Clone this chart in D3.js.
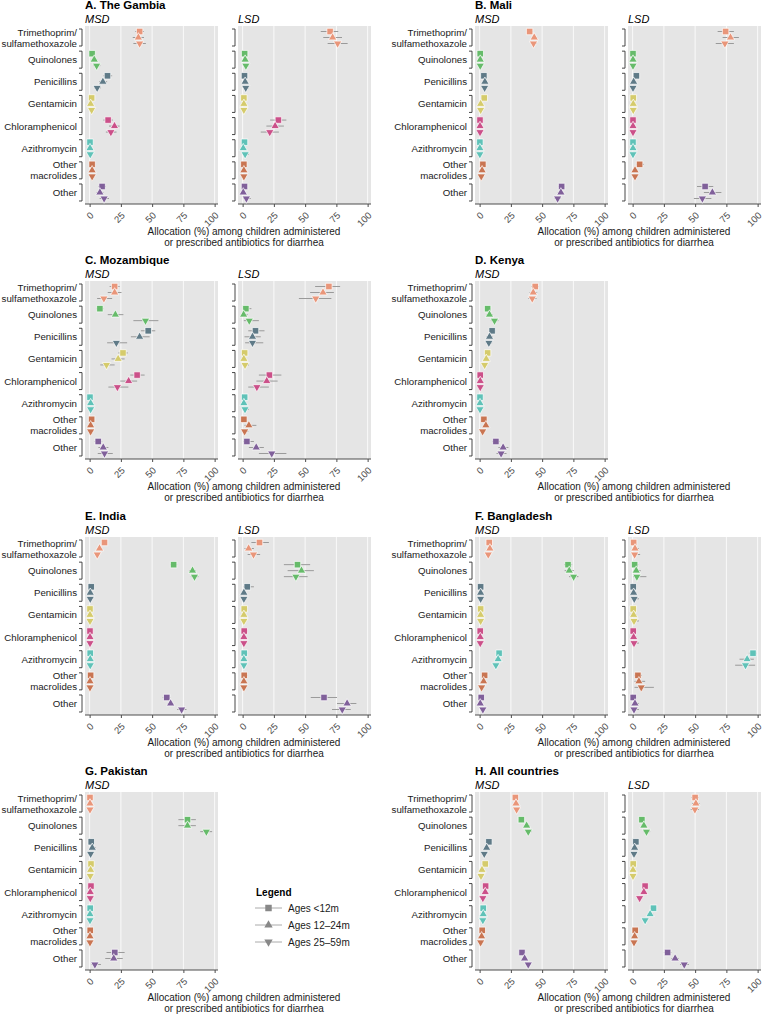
<!DOCTYPE html>
<html>
<head>
<meta charset="utf-8">
<script src="https://cdn.jsdelivr.net/npm/d3@7"></script>
<style>
  body { margin: 0; background: #fff; }
  svg { font-family: "Liberation Sans", Arial, Helvetica, sans-serif; }
</style>
</head>
<body>
<div id="chart"></div>
<script>
// antibiotic classes (y axis), top to bottom
var categories = ["Trimethoprim/\nsulfamethoxazole", "Quinolones", "Penicillins", "Gentamicin",
                  "Chloramphenicol", "Azithromycin", "Other\nmacrolides", "Other"];
var catColors = ["#e9967a", "#66bb6a", "#5f7a87", "#d5cb6b", "#cb5089", "#5fc2b8", "#c97552", "#80609a"];
var ageGroups = ["Ages <12m", "Ages 12\u201324m", "Ages 25\u201359m"];
var xTicks = [0, 25, 50, 75, 100];

// each row: [estimate, lower, upper] for <12m, 12-24m, 25-59m
var gambiaMSD = [
  [[40, 36.5, 43.5], [39, 34.5, 43.5], [40, 35, 45]],
  [[2, 0.5, 4], [3.7, 1.5, 6], [5.6, 3, 8.5]],
  [[14.3, 11, 18], [10.6, 7.5, 14], [6, 3.5, 9]],
  [[1.6, 0.3, 3], [0.8, 0, 2], [1.6, 0.3, 3]],
  [[14.8, 11, 18.5], [19.9, 15.5, 24], [17, 13, 21.5]],
  [[0.3, 0, 1.2], [0.3, 0, 1.2], [0.5, 0, 1.5]],
  [[2, 0.5, 3.5], [2, 0.5, 3.5], [2, 0.5, 3.5]],
  [[10, 7, 13], [8.2, 5.5, 11], [11.6, 8, 15.5]]
];
var gambiaLSD = [
  [[70, 62.5, 76.5], [72, 64.5, 79.5], [76, 68, 84]],
  [[1.6, 0.3, 3.5], [2, 0.3, 4], [2.6, 0.5, 5]],
  [[1.5, 0.3, 3.5], [2, 0.3, 4], [2.5, 0.5, 5]],
  [[1, 0, 2.5], [1, 0, 2.5], [1, 0, 2.5]],
  [[28.6, 22, 35], [26, 19, 33], [21.7, 14.5, 29]],
  [[1.5, 0.3, 3], [0.5, 0, 2], [2, 0.3, 5]],
  [[1, 0, 2.5], [1, 0, 2.5], [1, 0, 2.5]],
  [[1.5, 0.3, 3.5], [0.5, 0, 2], [3, 0.5, 6.5]]
];
var maliMSD = [
  [[40, 38, 42.5], [43.7, 41.5, 46], [43.1, 41, 45.5]],
  [[0.5, 0, 1.2], [0.5, 0, 1.2], [0.5, 0, 1.2]],
  [[3.4, 2, 5], [4.2, 2.5, 6], [4, 2.5, 5.5]],
  [[3.7, 2.3, 5.2], [0.8, 0.2, 1.8], [0.8, 0.2, 1.8]],
  [[0.3, 0, 1], [0.3, 0, 1], [0.3, 0, 1]],
  [[0.2, 0, 1], [0.2, 0, 1], [0.2, 0, 1]],
  [[2.6, 1.5, 4], [2, 1, 3.2], [1.3, 0.5, 2.5]],
  [[65.6, 63, 68], [65, 62.5, 67.5], [62.4, 60, 65]]
];
var maliLSD = [
  [[74.4, 68, 81], [78.3, 72, 85], [73.8, 66.5, 81]],
  [[0.3, 0, 1.2], [0.3, 0, 1.2], [0.3, 0, 1.2]],
  [[3, 1, 5.5], [0.8, 0, 2.2], [0.3, 0, 1.2]],
  [[0.5, 0, 1.5], [0.5, 0, 1.5], [0.5, 0, 1.5]],
  [[0.3, 0, 1.2], [0.3, 0, 1.2], [0.3, 0, 1.2]],
  [[0.3, 0, 1.2], [0.3, 0, 1.2], [0.3, 0, 1.2]],
  [[5.6, 3, 9], [1.9, 0.5, 4], [1.9, 0.5, 4]],
  [[58, 51.5, 64.5], [63.8, 57, 71], [55.8, 49, 63]]
];
var mozambiqueMSD = [
  [[20, 16, 24], [20, 14.5, 25.5], [11.4, 6, 18]],
  [[8.2, 5.5, 11], [20.6, 14.5, 27], [44.7, 35, 55]],
  [[46.9, 41, 52.5], [40, 33, 48], [21.4, 14, 30]],
  [[26.7, 23, 30.5], [22.8, 17.5, 28], [13.5, 8.5, 20]],
  [[38, 32.5, 44], [31.2, 24.5, 38], [22.2, 15, 31]],
  [[0.3, 0, 1.5], [0.8, 0, 2], [0.8, 0, 2]],
  [[1.6, 0.3, 3.5], [0.8, 0, 2], [0.8, 0, 2]],
  [[6.9, 4, 10], [10.9, 7, 15], [11.9, 6.5, 18.5]]
];
var mozambiqueLSD = [
  [[69, 58, 78], [64.3, 54, 73], [58.5, 45, 71]],
  [[2.6, 0.5, 7], [0.8, 0, 4], [5.3, 1, 13]],
  [[10.3, 4.5, 17.5], [7.9, 1.5, 14.5], [7.9, 2, 16.5]],
  [[1.6, 0.3, 4], [1, 0, 3], [1.9, 0.3, 5]],
  [[21.4, 13, 31], [19.3, 11, 28], [11.4, 4.5, 21]],
  [[1.6, 0.3, 4], [1, 0, 3], [1.9, 0.3, 5]],
  [[1, 0, 3], [5, 1.5, 11], [1.6, 0.3, 4.5]],
  [[3.4, 0.5, 9], [10.9, 5, 17], [23.3, 13, 35]]
];
var kenyaMSD = [
  [[44.5, 41.5, 47.5], [42.9, 40, 46], [42.1, 39, 45.5]],
  [[6.4, 4.5, 8.5], [7.9, 5.5, 10.5], [11.9, 9, 15]],
  [[10, 8, 12.5], [7.9, 5.5, 10.5], [7.4, 5, 10]],
  [[6.4, 4.5, 8.5], [5.3, 3.5, 7.5], [4, 2.5, 6]],
  [[0.5, 0, 1.5], [0.5, 0, 1.5], [0.5, 0, 1.5]],
  [[0.3, 0, 1], [0.3, 0, 1], [0.3, 0, 1]],
  [[3.4, 2, 5], [5, 3, 7], [2.4, 1, 4]],
  [[13, 10, 16], [18.8, 15, 23], [17.2, 13.5, 21.5]]
];
var indiaMSD = [
  [[11.9, 10, 14], [7.9, 6, 10], [6.1, 4.5, 8]],
  [[67.2, 64.5, 70], [82.3, 79.5, 85], [83.9, 81, 87]],
  [[1.3, 0.5, 2.5], [0.5, 0, 1.2], [0.5, 0, 1.2]],
  [[0.3, 0, 1], [0.3, 0, 1], [0.3, 0, 1]],
  [[0.3, 0, 1], [0.3, 0, 1], [0.3, 0, 1]],
  [[0.5, 0, 1.2], [0.5, 0, 1.2], [0.5, 0, 1.2]],
  [[0.8, 0, 1.8], [0.3, 0, 1], [0.3, 0, 1]],
  [[61.7, 58.5, 64.5], [64.8, 62.5, 67], [73.6, 70, 77.5]]
];
var indiaLSD = [
  [[13.5, 7, 21], [4.8, 1.5, 9], [8.7, 4, 14]],
  [[43.9, 33, 54], [47.1, 36, 57], [42.6, 33, 52]],
  [[3.7, 0.8, 9], [1, 0, 3], [1, 0, 3]],
  [[1.3, 0, 4], [1, 0, 3], [1, 0, 3]],
  [[1.3, 0, 4], [1, 0, 3], [1, 0, 3]],
  [[1.3, 0, 4], [1, 0, 3], [1, 0, 3]],
  [[1.3, 0, 4], [1, 0, 3], [1, 0, 3]],
  [[65.1, 54.5, 75.5], [83.6, 75.5, 91], [79.7, 71.5, 86.5]]
];
var bangladeshMSD = [
  [[7.7, 6, 9.5], [8.2, 6.5, 10], [6.9, 5.5, 8.5]],
  [[70.7, 67.5, 74], [71.7, 68, 75.5], [75.2, 71.5, 79]],
  [[0.8, 0.2, 1.8], [0.8, 0.2, 1.8], [0.8, 0.2, 1.8]],
  [[0.8, 0.2, 1.8], [0.8, 0.2, 1.8], [0.8, 0.2, 1.8]],
  [[0.5, 0, 1.5], [0.5, 0, 1.5], [0.5, 0, 1.5]],
  [[15.6, 13.5, 18], [14.8, 12.5, 17], [13, 11, 15]],
  [[4, 2.5, 5.5], [3.2, 2, 4.5], [1.6, 0.5, 3]],
  [[1.3, 0.3, 2.5], [0.5, 0, 1.5], [2.6, 1.2, 4]]
];
var bangladeshLSD = [
  [[0.8, 0, 3], [1.9, 0.3, 5], [1.6, 0.3, 6]],
  [[1.6, 0.3, 4.5], [2.9, 0.5, 6.5], [3.4, 0.5, 11]],
  [[0.5, 0, 3], [0.8, 0, 3], [1.3, 0, 5]],
  [[0.5, 0, 3], [0.8, 0, 3], [1.1, 0, 5]],
  [[0.5, 0, 3], [0.8, 0, 3], [1.1, 0, 5]],
  [[96.3, 93, 99], [91.6, 85.5, 97], [90.3, 82, 98]],
  [[4.2, 1.5, 7.5], [5, 1.5, 10], [6.9, 1.5, 17]],
  [[0.5, 0, 3], [1.9, 0.3, 5], [1.1, 0, 5]]
];
var pakistanMSD = [
  [[0.3, 0, 1], [0.3, 0, 1], [0.3, 0, 1]],
  [[78.3, 71, 85], [78.3, 71, 85], [93.4, 88.5, 98]],
  [[1.3, 0.3, 3], [2.1, 0.5, 5], [0.8, 0, 2.5]],
  [[1.1, 0, 2.5], [0.8, 0, 2], [0.5, 0, 1.5]],
  [[1.1, 0, 2.5], [0.5, 0, 1.5], [0.5, 0, 1.5]],
  [[0.5, 0, 1.5], [0.3, 0, 1], [0.3, 0, 1]],
  [[0.5, 0, 1.5], [0.3, 0, 1], [0.3, 0, 1]],
  [[20.1, 13.5, 28], [19.3, 12.5, 26.5], [4.2, 1.5, 9]]
];
var allMSD = [
  [[28.6, 27, 30.5], [29.1, 27.5, 31], [29.6, 28, 31.5]],
  [[33.4, 31.5, 35.5], [37.6, 35.5, 40], [38.9, 36.5, 41.5]],
  [[7.4, 6, 9], [5.6, 4.5, 7], [3.7, 2.5, 5]],
  [[4.5, 3.5, 5.5], [1.9, 1, 3], [1.1, 0.5, 2]],
  [[4.8, 3.5, 6], [4.5, 3.5, 6], [2.6, 1.5, 4]],
  [[2.9, 2, 4], [2.9, 2, 4], [2.6, 1.5, 3.5]],
  [[2.1, 1.2, 3], [1.6, 0.8, 2.5], [0.8, 0.3, 1.5]],
  [[33.9, 32, 36], [36, 34, 38], [38.9, 36.5, 41]]
];
var allLSD = [
  [[50, 47, 53], [50.6, 47.5, 53.5], [49.8, 46.5, 53]],
  [[7.4, 5.5, 9.5], [9, 7, 11.5], [11.1, 8.5, 14]],
  [[2.6, 1.3, 4], [1.6, 0.7, 3], [1.1, 0.3, 2.5]],
  [[0.5, 0, 1.2], [0.3, 0, 1], [0.3, 0, 1]],
  [[10, 8, 12], [9, 7, 11], [5.6, 4, 7.5]],
  [[16.7, 14.5, 19], [14, 12, 16.5], [10, 8, 12]],
  [[2.1, 1, 3.5], [1.6, 0.7, 3], [1.1, 0.3, 2.5]],
  [[28, 25, 31], [34, 31, 37], [41.3, 38, 45]]
];

var panels = [
  {title: "A. The Gambia",   msd: gambiaMSD,     lsd: gambiaLSD},
  {title: "B. Mali",         msd: maliMSD,       lsd: maliLSD},
  {title: "C. Mozambique",   msd: mozambiqueMSD, lsd: mozambiqueLSD},
  {title: "D. Kenya",        msd: kenyaMSD,      lsd: null},
  {title: "E. India",        msd: indiaMSD,      lsd: indiaLSD},
  {title: "F. Bangladesh",   msd: bangladeshMSD, lsd: bangladeshLSD},
  {title: "G. Pakistan",     msd: pakistanMSD,   lsd: null},
  {title: "H. All countries", msd: allMSD,       lsd: allLSD}
];

var W = 766, H = 1014;
var colX = [85, 475];          // left edge of MSD panel per column
var lsdGap = 153;              // MSD left -> LSD left
var rowY = [26, 281, 537, 792];
var pw = 133, ph = 178;

var svg = d3.select("#chart").append("svg")
    .attr("width", W)
    .attr("height", H);

//marker shapes
var sq = d3.symbol().type(d3.symbolSquare).size(42)();
var tri = d3.symbol().type(d3.symbolTriangle).size(30)();
var shapes = [
  {d: sq, rot: 0},
  {d: tri, rot: 0},
  {d: tri, rot: 180}
];
var offsets = [-6, 0, 6];

function drawPanel(g, data, left, top, sub, withLabels) {
  var x = d3.scaleLinear().domain([-3.7, 102.7]).range([left, left + pw]);
  var y = d3.scalePoint().domain(d3.range(categories.length)).range([top, top + ph]).padding(0.52);

  g.append("rect")
    .attr("x", left).attr("y", top)
    .attr("width", pw).attr("height", ph)
    .attr("fill", "#e5e5e5");

  g.selectAll(".grid").data(xTicks).enter().append("line")
    .attr("x1", function(d){ return x(d); })
    .attr("x2", function(d){ return x(d); })
    .attr("y1", top).attr("y2", top + ph)
    .attr("stroke", "#fff").attr("stroke-width", 0.8);

  //sub heading (MSD / LSD)
  g.append("text")
    .text(sub)
    .attr("x", left).attr("y", top - 3.5)
    .attr("font-size", 11).attr("font-style", "italic")
    .attr("fill", "#000");

  //bottom axis
  var axis = g.append("g").attr("transform", "translate(0," + (top + ph) + ")")
    .call(d3.axisBottom(x).tickValues(xTicks).tickSize(3).tickSizeOuter(0).tickPadding(0));
  axis.select(".domain").attr("stroke", "#4d4d4d").attr("d", "M" + left + ",0H" + (left + pw));
  axis.selectAll(".tick line").attr("stroke", "#4d4d4d");
  axis.selectAll(".tick text")
    .attr("font-size", 9.5)
    .attr("fill", "#4d4d4d")
    .attr("text-anchor", "end")
    .attr("font-family", "Liberation Sans, Arial, sans-serif")
    .attr("y", 0).attr("dy", 0)
    .attr("transform", "translate(4,12) rotate(-45)");

  //brackets and labels
  categories.forEach(function(c, i) {
    var cy = y(i);
    g.append("path")
      .attr("d", "M" + (left - 6) + "," + (cy - 8.5) + "H" + (left - 3) + "V" + (cy + 8.5) + "H" + (left - 6))
      .attr("fill", "none").attr("stroke", "#333").attr("stroke-width", 0.9);
    if (withLabels) {
      var lines = c.split("\n");
      var t = g.append("text")
        .attr("text-anchor", "end")
        .attr("font-size", 9.7)
        .attr("fill", "#1a1a1a");
      lines.forEach(function(l, k) {
        t.append("tspan")
          .attr("x", left - 8)
          .attr("y", cy + 3.5 + (k - (lines.length - 1) / 2) * 11)
          .text(l);
      });
    }
  });

  //error bars then markers
  data.forEach(function(row, i) {
    row.forEach(function(v, a) {
      var cy = y(i) + offsets[a];
      g.append("line")
        .attr("x1", x(v[1])).attr("x2", x(v[2]))
        .attr("y1", cy).attr("y2", cy)
        .attr("stroke", "#9a9a9a").attr("stroke-width", 1);
    });
  });
  data.forEach(function(row, i) {
    row.forEach(function(v, a) {
      var cy = y(i) + offsets[a];
      g.append("path")
        .attr("d", shapes[a].d)
        .attr("transform", "translate(" + x(v[0]) + "," + cy + ") rotate(" + shapes[a].rot + ")")
        .attr("fill", catColors[i])
        .attr("stroke", "#fff").attr("stroke-width", 0.7);
    });
  });
}

panels.forEach(function(p, k) {
  var col = k % 2, row = Math.floor(k / 2);
  var left = colX[col], top = rowY[row];
  var g = svg.append("g");

  g.append("text")
    .text(p.title)
    .attr("x", left).attr("y", top - 17)
    .attr("font-size", 11.5).attr("font-weight", "bold")
    .attr("fill", "#000");

  drawPanel(g, p.msd, left, top, "MSD", true);
  if (p.lsd) drawPanel(g, p.lsd, left + lsdGap, top, "LSD", false);

  var xt = g.append("text")
    .attr("text-anchor", "middle")
    .attr("font-size", 10)
    .attr("fill", "#1a1a1a");
  xt.append("tspan").attr("x", left + 159).attr("y", top + ph + 31)
    .text("Allocation (%) among children administered");
  xt.append("tspan").attr("x", left + 159).attr("y", top + ph + 42)
    .text("or prescribed antibiotics for diarrhea");
});

//legend
var leg = svg.append("g");
leg.append("text")
  .text("Legend")
  .attr("x", 256).attr("y", 896)
  .attr("font-size", 10).attr("font-weight", "bold");
ageGroups.forEach(function(a, i) {
  var cy = 908 + i * 17;
  leg.append("line")
    .attr("x1", 255).attr("x2", 282)
    .attr("y1", cy).attr("y2", cy)
    .attr("stroke", "#aaa").attr("stroke-width", 1);
  leg.append("path")
    .attr("d", shapes[i].d)
    .attr("transform", "translate(268.5," + cy + ") rotate(" + shapes[i].rot + ")")
    .attr("fill", "#888");
  leg.append("text")
    .text(a)
    .attr("x", 288).attr("y", cy + 3.5)
    .attr("font-size", 10).attr("fill", "#1a1a1a");
});
</script>
</body>
</html>
